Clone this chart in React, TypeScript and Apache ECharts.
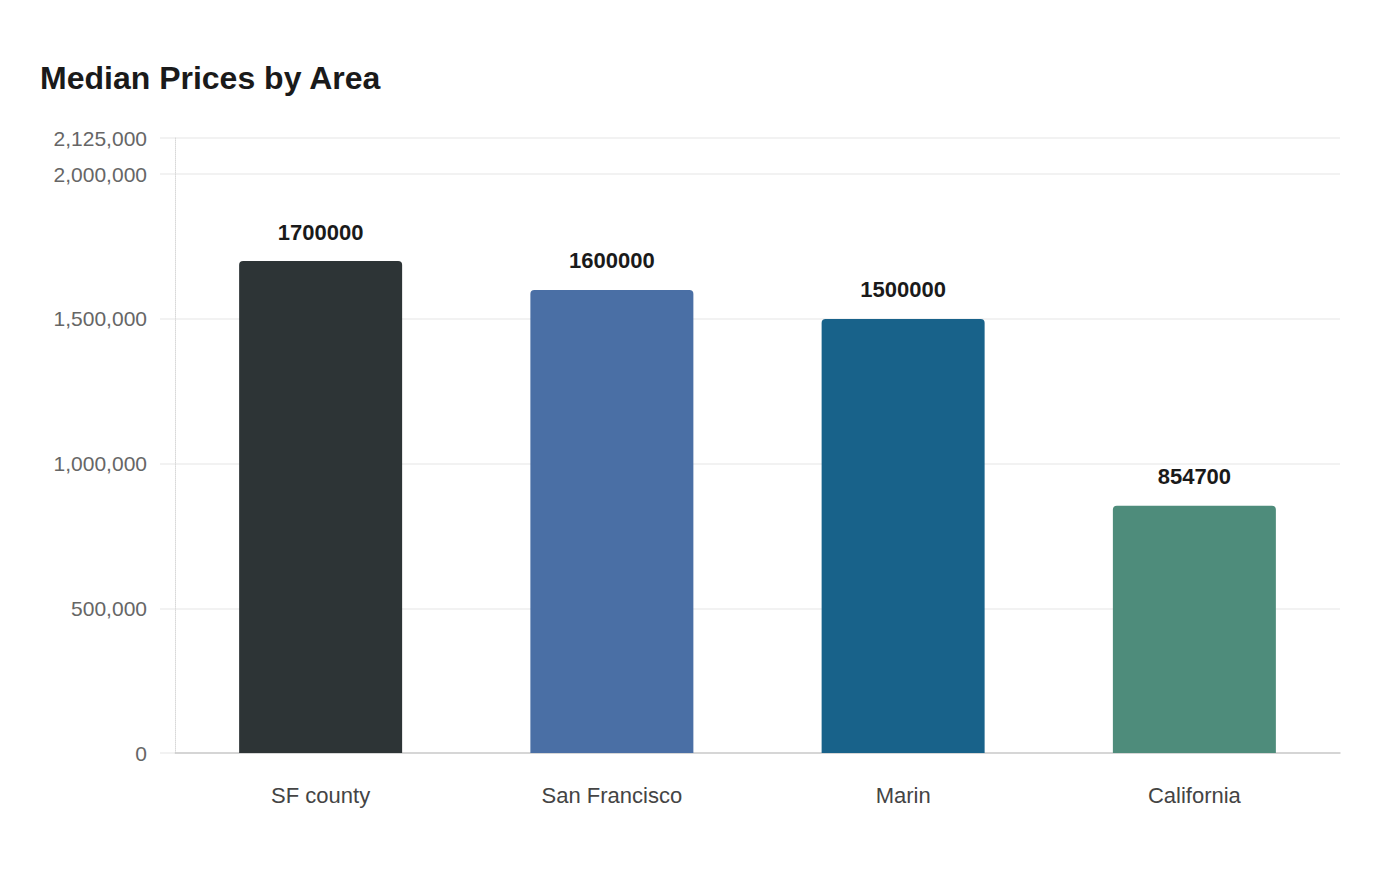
import React, { useEffect, useRef } from 'react';
import * as echarts from 'echarts';

const areas = ['SF county', 'San Francisco', 'Marin', 'California'];
const medianPrices = [1700000, 1600000, 1500000, 854700];
const barColors = ['#2d3436', '#4a6fa5', '#18628a', '#4e8c7b'];

const App: React.FC = () => {
  const chartRef = useRef<HTMLDivElement | null>(null);

  useEffect(() => {
    if (!chartRef.current) return;
    const chart = echarts.init(chartRef.current, null, { renderer: 'svg' });

    chart.setOption({
      animation: false,
      textStyle: { fontFamily: '"Liberation Sans", Arial, sans-serif' },
      title: {
        text: 'Median Prices by Area',
        left: 40,
        top: 62,
        padding: 0,
        textStyle: { fontSize: 32, fontWeight: 'bold', color: '#1a1a1a' },
      },
      grid: { left: 175, right: 60, top: 138, bottom: 127 },
      xAxis: {
        type: 'category',
        data: areas,
        axisLine: { lineStyle: { color: '#cccccc', width: 1.5 } },
        axisTick: { show: false },
        axisLabel: { fontSize: 22, color: '#444444', margin: 31 },
      },
      yAxis: {
        type: 'value',
        min: 0,
        max: 2125000,
        interval: 500000,
        axisLine: { show: true, lineStyle: { color: '#d8d8d8', type: 'dotted', width: 1 } },
        axisTick: { show: true, length: 15, lineStyle: { color: '#eeeeee', width: 1.5 } },
        axisLabel: { fontSize: 21, color: '#666666', margin: 28 },
        splitLine: { lineStyle: { color: '#eeeeee', width: 1.5 } },
      },
      series: [
        {
          type: 'bar',
          barWidth: 163,
          data: medianPrices.map((v, i) => ({
            value: v,
            itemStyle: { color: barColors[i], borderRadius: [4, 4, 0, 0] },
          })),
          label: {
            show: true,
            position: 'top',
            distance: 18,
            fontSize: 22,
            fontWeight: 'bold',
            color: '#1a1a1a',
          },
        },
      ],
    });

    return () => {
      chart.dispose();
    };
  }, []);

  return (
    <div
      ref={chartRef}
      style={{ position: 'absolute', left: 0, top: 0, width: 1400, height: 880, background: '#fff' }}
    />
  );
};

export default App;
